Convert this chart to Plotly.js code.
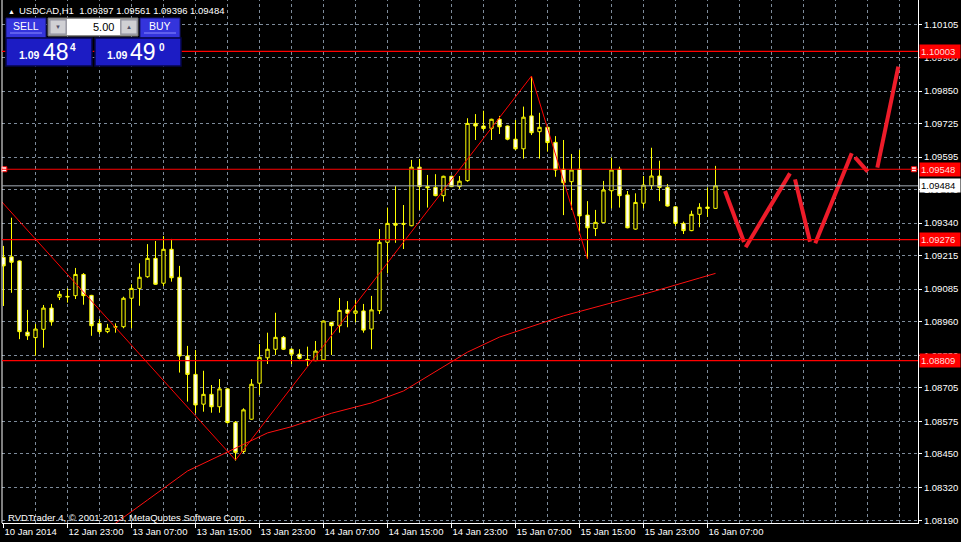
<!DOCTYPE html>
<html><head><meta charset="utf-8">
<script src="https://cdn.plot.ly/plotly-3.0.1.min.js"></script>
<style>html,body{margin:0;padding:0;background:#000;}#chart{width:961px;height:542px;}</style>
</head><body><div id="chart"></div>
<script>
// ---------- DATA ----------
const symbolTitle = 'USDCAD,H1\u00a0\u00a01.09397 1.09561 1.09396 1.09484';
const copyrightText = 'RVDTrader 4, \u00a9 2001-2013, MetaQuotes Software Corp.';
const openPrices = [1.09208,1.09210,1.09194,1.08919,1.08898,1.08930,1.09012,1.09054,1.09055,1.09060,
1.09142,1.09061,1.08953,1.08921,1.08940,1.08940,1.09050,1.09088,1.09133,1.09204,
1.09108,1.09239,1.09131,1.08827,1.08756,1.08641,1.08679,1.08631,1.08700,1.08571,
1.08458,1.08583,1.08722,1.08820,1.08853,1.08899,1.08853,1.08834,1.08814,1.08809,
1.08812,1.08957,1.08944,1.09005,1.08992,1.09001,1.08931,1.09002,1.09266,1.09339,
1.09339,1.09330,1.09556,1.09481,1.09478,1.09446,1.09521,1.09481,1.09504,1.09725,
1.09715,1.09706,1.09741,1.09715,1.09664,1.09627,1.09754,1.09693,1.09710,1.09652,
1.09548,1.09500,1.09548,1.09371,1.09319,1.09342,1.09465,1.09548,1.09449,1.09317,
1.09417,1.09485,1.09522,1.09478,1.09403,1.09339,1.09311,1.09374,1.09402,1.09397];
const highPrices = [1.09252,1.09361,1.09196,1.09005,1.08951,1.09024,1.09028,1.09078,1.09088,1.09167,
1.09147,1.09063,1.08970,1.08951,1.08953,1.09056,1.09104,1.09185,1.09259,1.09271,
1.09290,1.09279,1.09175,1.08866,1.08850,1.08770,1.08715,1.08738,1.08702,1.08576,
1.08625,1.08738,1.08873,1.08917,1.08994,1.08904,1.08857,1.08853,1.08863,1.08885,
1.08964,1.08959,1.09051,1.09039,1.09043,1.09028,1.09059,1.09317,1.09400,1.09483,
1.09410,1.09584,1.09588,1.09526,1.09529,1.09523,1.09523,1.09522,1.09745,1.09761,
1.09774,1.09743,1.09754,1.09717,1.09738,1.09790,1.09908,1.09766,1.09712,1.09676,
1.09661,1.09607,1.09623,1.09425,1.09391,1.09503,1.09593,1.09558,1.09464,1.09455,
1.09522,1.09631,1.09581,1.09491,1.09405,1.09346,1.09388,1.09417,1.09478,1.09561];
const lowPrices = [1.09020,1.09071,1.08892,1.08889,1.08828,1.08859,1.08944,1.09043,1.09033,1.09047,
1.09025,1.08905,1.08912,1.08915,1.08917,1.08934,1.08934,1.09021,1.09129,1.09102,
1.09097,1.09114,1.08763,1.08651,1.08606,1.08612,1.08608,1.08608,1.08566,1.08423,
1.08451,1.08581,1.08676,1.08796,1.08831,1.08850,1.08796,1.08814,1.08788,1.08807,
1.08810,1.08831,1.08917,1.08938,1.08957,1.08917,1.08853,1.08989,1.09146,1.09264,
1.09240,1.09328,1.09391,1.09400,1.09444,1.09423,1.09479,1.09472,1.09500,1.09661,
1.09697,1.09661,1.09684,1.09660,1.09622,1.09589,1.09680,1.09589,1.09616,1.09519,
1.09371,1.09391,1.09307,1.09202,1.09290,1.09340,1.09397,1.09400,1.09320,1.09315,
1.09397,1.09472,1.09425,1.09404,1.09329,1.09298,1.09309,1.09324,1.09364,1.09396];
const closePrices = [1.09175,1.09189,1.08921,1.08905,1.08931,1.09012,1.08959,1.09065,1.09057,1.09142,
1.09060,1.08944,1.08921,1.08934,1.08939,1.09050,1.09088,1.09131,1.09204,1.09104,
1.09239,1.09129,1.08827,1.08756,1.08638,1.08679,1.08631,1.08700,1.08570,1.08455,
1.08619,1.08718,1.08822,1.08853,1.08899,1.08853,1.08834,1.08818,1.08812,1.08846,
1.08962,1.08944,1.09003,1.08992,1.09001,1.08927,1.09005,1.09266,1.09339,1.09332,
1.09336,1.09556,1.09481,1.09477,1.09446,1.09521,1.09481,1.09502,1.09725,1.09715,
1.09705,1.09741,1.09712,1.09664,1.09627,1.09749,1.09689,1.09710,1.09651,1.09545,
1.09496,1.09545,1.09368,1.09322,1.09343,1.09468,1.09545,1.09446,1.09322,1.09420,
1.09487,1.09522,1.09478,1.09406,1.09339,1.09311,1.09374,1.09401,1.09397,1.09484];
const timeTickBars = [0,8,16,24,32,40,48,56,64,72,80,88];
const timeTickLabels = ['10 Jan 2014','12 Jan 23:00','13 Jan 07:00','13 Jan 15:00','13 Jan 23:00','14 Jan 07:00',
  '14 Jan 15:00','14 Jan 23:00','15 Jan 07:00','15 Jan 15:00','15 Jan 23:00','16 Jan 07:00'];
const priceTicks = [1.08190,1.08320,1.08450,1.08575,1.08705,1.08830,1.08960,1.09085,1.09215,1.09340,
  1.09470,1.09595,1.09725,1.09850,1.09980,1.10105];
const levelPrices = [1.10003, 1.09548, 1.09276, 1.08809];
const bidPrice = 1.09484;
const zigzagBars = [-1, 29, 66, 73];
const zigzagPrices = [1.09449, 1.08425, 1.09908, 1.09202];
const maBars = [13, 14, 18, 23, 28, 33, 36, 41, 46, 50, 58, 62, 70, 75, 81, 87, 89];
const maPrices = [1.08159, 1.08182, 1.08271, 1.08383, 1.08458, 1.08530, 1.08554, 1.08606, 1.08646, 1.08692,
  1.08842, 1.08900, 1.08982, 1.09024, 1.09074, 1.09128, 1.09146];
const projBars = [90.19, 92.56, null, 92.77, 98.31, null, 98.94, 100.81, null, 101.47, 106.03, null, 106.44, 108.03, null, 109.23, 111.85];
const projPrices = [1.09464, 1.09267, null, 1.09247, 1.09532, null, 1.09509, 1.09268, null, 1.09262, 1.09610, null, 1.09594, 1.09539, null, 1.09554, 1.09944];
const sellPrice = {big: '1.09', mid: '48', small: '4'};
const buyPrice = {big: '1.09', mid: '49', small: '0'};
const lotSize = '5.00';

// ---------- LAYOUT HELPERS ----------
const FONT = 'Liberation Sans, Arial, sans-serif';
const W = 961, H = 542;
const M = {l: 2, r: 43, t: 0, b: 19};
const PW = W - M.l - M.r, PH = H - M.t - M.b;
const px = v => (v - M.l) / PW;
const py = v => 1 - (v - M.t) / PH;
const bars = openPrices.map((_, i) => i);
const gridBars = [];
for (let b = 4; b <= 112; b += 4) gridBars.push(b);

const shapes = [];
const ann = [];
// vertical dashed grid
gridBars.forEach(b => shapes.push({type: 'line', xref: 'x', yref: 'paper', x0: b, x1: b, y0: 0, y1: 1,
  line: {color: '#7d8b9a', width: 1, dash: '3px,3px'}, layer: 'below'}));
// left border
shapes.push({type: 'line', xref: 'paper', yref: 'paper', x0: 0, x1: 0, y0: 0, y1: 1, line: {color: '#ffffff', width: 1}});
// bid line
shapes.push({type: 'line', xref: 'paper', yref: 'y', x0: 0, x1: 1, y0: bidPrice, y1: bidPrice, line: {color: '#a3acb6', width: 1}});
// horizontal levels
levelPrices.forEach(p => shapes.push({type: 'line', xref: 'paper', yref: 'y', x0: 0, x1: 1, y0: p, y1: p, line: {color: '#ff0000', width: 1.2}}));

// right price labels
levelPrices.forEach(p => ann.push({xref: 'paper', yref: 'y', x: 1, y: p, xanchor: 'left', yanchor: 'middle', xshift: 1,
  text: p.toFixed(5), showarrow: false, bgcolor: '#ff0000', borderpad: 1, width: 38, align: 'left',
  font: {family: FONT, size: 9.5, color: '#ffdddd'}}));
ann.push({xref: 'paper', yref: 'y', x: 1, y: bidPrice, xanchor: 'left', yanchor: 'middle', xshift: 1,
  text: bidPrice.toFixed(5), showarrow: false, bgcolor: '#ffffff', borderpad: 1, width: 38, align: 'left',
  font: {family: FONT, size: 9.5, color: '#000000'}});

// header
ann.push({xref: 'paper', yref: 'paper', x: px(6), y: py(11), xanchor: 'left', yanchor: 'middle', showarrow: false,
  text: '\u25B2', font: {family: FONT, size: 7, color: '#ffffff'}});
ann.push({xref: 'paper', yref: 'paper', x: px(17), y: py(10), xanchor: 'left', yanchor: 'middle', showarrow: false,
  text: symbolTitle, font: {family: FONT, size: 9.5, color: '#ffffff'}});
// copyright
ann.push({xref: 'paper', yref: 'paper', x: px(6), y: py(517), xanchor: 'left', yanchor: 'middle', showarrow: false,
  text: copyrightText, font: {family: FONT, size: 9.5, color: '#ffffff'}});

// one-click panel
function rect(x0, y0, x1, y1, fill, line, lw) {
  shapes.push({type: 'rect', xref: 'paper', yref: 'paper', x0: px(x0), x1: px(x1), y0: py(y1), y1: py(y0),
    fillcolor: fill, line: {color: line, width: lw === undefined ? 1 : lw}, layer: 'above'});
}
function seg(x0, y0, x1, y1, color) {
  shapes.push({type: 'line', xref: 'paper', yref: 'paper', x0: px(x0), x1: px(x1), y0: py(y0), y1: py(y1),
    line: {color: color, width: 1}, layer: 'above'});
}
function txt(t, x, y, size, color, anchor) {
  ann.push({xref: 'paper', yref: 'paper', x: px(x), y: py(y), xanchor: anchor || 'center', yanchor: 'middle',
    showarrow: false, text: t, font: {family: FONT, size: size, color: color}});
}
rect(6, 18, 46, 38, '#3434dc', '#14146e');
seg(10, 33, 42, 33, '#8a8aff');
txt('SELL', 26, 26, 10.5, '#ffffff');
rect(140, 18, 180, 38, '#3434dc', '#14146e');
seg(144, 33, 176, 33, '#8a8aff');
txt('BUY', 160, 26, 10.5, '#ffffff');
rect(48, 18, 138, 36, '#a8a8a8', '#707070');
rect(50, 20, 66, 34, '#d0d0d4', '#9090a0');
rect(67, 19, 120, 35, '#ffffff', '#ffffff', 0);
rect(121, 20, 137, 34, '#d0d0d4', '#9090a0');
txt('\u25BC', 58, 27, 6, '#505068');
txt('\u25B2', 129, 27, 6, '#505068');
txt(lotSize, 116, 27, 11, '#000000', 'right');
rect(6, 38, 92, 66, '#1c1cc4', '#06064a', 1.5);
rect(95, 38, 181, 66, '#1c1cc4', '#06064a', 1.5);
txt('<b>' + sellPrice.big + '</b>', 29.3, 55, 10.5, '#ffffff');
txt(sellPrice.mid, 55.8, 51.5, 23, '#ffffff');
txt('<b>' + sellPrice.small + '</b>', 72.7, 47.5, 10, '#ffffff');
txt('<b>' + buyPrice.big + '</b>', 117.5, 55, 10.5, '#ffffff');
txt(buyPrice.mid, 143.3, 51.5, 23, '#ffffff');
txt('<b>' + buyPrice.small + '</b>', 161.7, 47.5, 10, '#ffffff');

// ---------- TRACES ----------
const traces = [
  {type: 'candlestick', x: bars, open: openPrices, high: highPrices, low: lowPrices, close: closePrices,
    increasing: {line: {color: '#ffff00', width: 1}, fillcolor: '#000000'},
    decreasing: {line: {color: '#ffff00', width: 1}, fillcolor: '#ffffff'},
    whiskerwidth: 0, hoverinfo: 'skip', showlegend: false},
  {type: 'scatter', mode: 'lines', x: maBars, y: maPrices, line: {color: '#ff1010', width: 1}, hoverinfo: 'skip', showlegend: false},
  {type: 'scatter', mode: 'lines', x: zigzagBars, y: zigzagPrices, line: {color: '#ff0000', width: 1}, hoverinfo: 'skip', showlegend: false},
  {type: 'scatter', mode: 'lines', x: projBars, y: projPrices, connectgaps: false, line: {color: '#ee1c2a', width: 4}, hoverinfo: 'skip', showlegend: false},
  {type: 'scatter', mode: 'markers', x: [0.1, 113.8], y: [levelPrices[1], levelPrices[1]], cliponaxis: false,
    marker: {symbol: 'square', size: 5, color: '#ffffff', line: {color: '#ff0000', width: 1}}, hoverinfo: 'skip', showlegend: false}
];

const layout = {
  width: W, height: H,
  margin: M,
  paper_bgcolor: '#000000', plot_bgcolor: '#000000',
  showlegend: false,
  boxgap: 0.4,
  font: {family: FONT, size: 9.5, color: '#ffffff'},
  xaxis: {range: [-0.1875, 114.3125], showgrid: false, zeroline: false, rangeslider: {visible: false},
    tickmode: 'array', tickvals: timeTickBars, ticktext: timeTickLabels, ticklabelposition: 'outside right',
    ticks: 'outside', ticklen: 4, tickcolor: '#ffffff', tickwidth: 1,
    showline: true, linecolor: '#ffffff', linewidth: 1,
    tickfont: {family: FONT, size: 9.5, color: '#ffffff'}, fixedrange: true},
  yaxis: {range: [1.081822, 1.102015], side: 'right', tickmode: 'array', tickvals: priceTicks,
    tickformat: '.5f', showgrid: true, gridcolor: '#7d8b9a', griddash: '3px,3px', gridwidth: 1, zeroline: false,
    ticks: 'outside', ticklen: 3, tickcolor: '#ffffff', showline: true, linecolor: '#ffffff', linewidth: 1,
    tickfont: {family: FONT, size: 9.5, color: '#ffffff'}, fixedrange: true},
  shapes: shapes,
  annotations: ann
};
Plotly.newPlot('chart', traces, layout, {displayModeBar: false, staticPlot: true});
</script>
</body></html>
